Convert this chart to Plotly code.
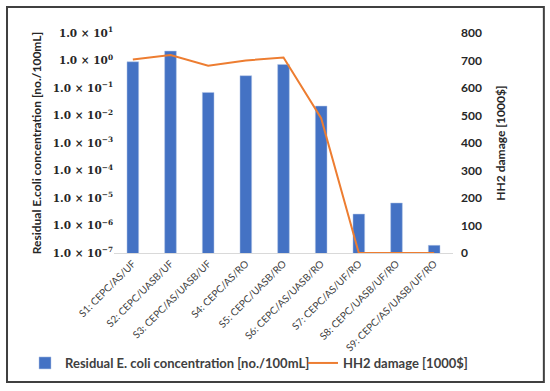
import plotly.graph_objects as go

categories = ["S1: CEPC/AS/UF", "S2: CEPC/UASB/UF", "S3: CEPC/AS/UASB/UF",
              "S4: CEPC/AS/RO", "S5: CEPC/UASB/RO", "S6: CEPC/AS/UASB/RO",
              "S7: CEPC/AS/UF/RO", "S8: CEPC/UASB/UF/RO", "S9: CEPC/AS/UASB/UF/RO"]
ecoli = [0.9, 2.2, 0.069, 0.28, 0.72, 0.022, 2.6e-6, 6.6e-6, 1.9e-7]
hh2_damage = [704, 720, 681, 700, 711, 490, 0, 0, 0]

left_tickvals = [1e-7, 1e-6, 1e-5, 1e-4, 1e-3, 1e-2, 1e-1, 1e0, 1e1]
left_ticktext = ["1.0 × 10<sup>−7</sup>", "1.0 × 10<sup>−6</sup>", "1.0 × 10<sup>−5</sup>",
                 "1.0 × 10<sup>−4</sup>", "1.0 × 10<sup>−3</sup>", "1.0 × 10<sup>−2</sup>",
                 "1.0 × 10<sup>−1</sup>", "1.0 × 10<sup>0</sup>", "1.0 × 10<sup>1</sup>"]

fig = go.Figure()
fig.add_trace(go.Bar(
    x=categories, y=ecoli, name="Residual E. coli concentration [no./100mL]",
    marker=dict(color="#4472C4", line=dict(color="#B4C7E7", width=0.5)),
    legend="legend",
))
fig.add_trace(go.Scatter(
    x=categories, y=hh2_damage, name="HH2 damage [1000$]", yaxis="y2",
    mode="lines", line=dict(color="#ED7D31", width=2),
    legend="legend2",
))

legend_font = dict(family="Lato", size=13, color="#404040", weight="bold")

fig.update_layout(
    width=550, height=391,
    margin=dict(l=114, r=97, t=33, b=138),
    paper_bgcolor="white", plot_bgcolor="white",
    bargap=0.69,
    font=dict(family="Lato", color="#404040"),
    showlegend=True,
    legend=dict(orientation="h", x=-0.2625, xanchor="left", y=-0.50, yanchor="middle",
                font=legend_font, itemwidth=30, bgcolor="rgba(0,0,0,0)"),
    legend2=dict(orientation="h", x=0.5575, xanchor="left", y=-0.50, yanchor="middle",
                 font=legend_font, itemwidth=30, bgcolor="rgba(0,0,0,0)"),
    xaxis=dict(showline=True, linecolor="#D9D9D9", linewidth=1, ticks="",
               tickangle=-45, tickfont=dict(family="Lato", size=10, color="#404040"),
               showgrid=False, automargin=False),
    yaxis=dict(type="log", range=[-7, 1], tickvals=left_tickvals, ticktext=left_ticktext,
               showgrid=False, zeroline=False, ticks="", automargin=False,
               tickfont=dict(family="DejaVu Serif", size=10.5, color="#262626", weight="bold"),
               title=dict(text="Residual E.coli concentration [no./100mL]",
                          font=dict(family="Lato", size=12, color="#262626", weight="bold"),
                          standoff=8)),
    yaxis2=dict(overlaying="y", side="right", range=[0, 800], dtick=100,
                showgrid=False, zeroline=False, ticks="", automargin=False,
                ticklabelstandoff=7,
                tickfont=dict(family="Lato", size=12, color="#262626", weight="bold"),
                title=dict(text="HH2 damage [1000$]",
                           font=dict(family="Lato", size=12, color="#262626", weight="bold"),
                           standoff=15)),
)

fig.add_shape(type="rect", xref="paper", yref="paper",
              x0=-0.3156, x1=1.268, y0=-0.586, y1=1.118,
              line=dict(color="#404040", width=2), fillcolor="rgba(0,0,0,0)", layer="above")

fig.write_html("out.html", config={"displayModeBar": False},
               post_script="document.body.style.margin='0';")
